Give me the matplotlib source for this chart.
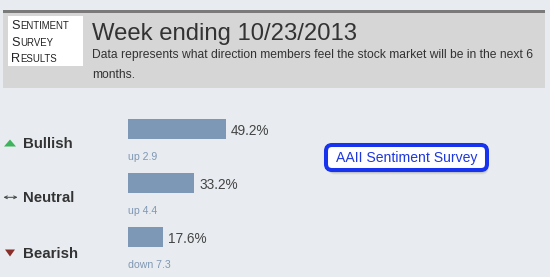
import matplotlib
matplotlib.use("Agg")
import matplotlib.pyplot as plt
from matplotlib.patches import Rectangle, Polygon, FancyBboxPatch

# data
categories = ["Bullish", "Neutral", "Bearish"]
values = [49.2, 33.2, 17.6]
changes = ["up 2.9", "up 4.4", "down 7.3"]
week = "10/23/2013"

plt.rcParams['font.family'] = ['Liberation Sans', 'DejaVu Sans']

BG = '#e8ecf0'
BAR = '#7c98b6'
DARK = '#333333'

fig = plt.figure(figsize=(5.5, 2.77), dpi=100, facecolor=BG)

# pixel canvas for the page furniture
ax = fig.add_axes([0, 0, 1, 1])
ax.set_xlim(0, 550)
ax.set_ylim(277, 0)
ax.axis('off')

# header band
ax.add_patch(Rectangle((3, 12), 542, 76, fc='#d6d6d6', ec='none'))
ax.add_patch(Rectangle((3, 10), 542, 2.6, fc='#7a7a7a', ec='none'))
ax.add_patch(Rectangle((8, 16), 75, 50, fc='white', ec='none'))

# small caps box text
fig.canvas.draw()
renderer = fig.canvas.get_renderer()
for word, base in zip(["Sentiment", "Survey", "Results"], [29.2, 45.8, 62.3]):
    t = ax.text(11, base, word[0], fontsize=9.2, color='#222222', va='baseline')
    bb = t.get_window_extent(renderer)
    x1 = ax.transData.inverted().transform((bb.x1, bb.y0))[0]
    ax.text(x1 + 0.4, base, word[1:].upper(), fontsize=6.9, color='#222222',
            va='baseline')

ax.text(92, 40, "Week ending " + week, fontsize=17.2, color=DARK, va='baseline')
ax.text(92, 58, "Data represents what direction members feel the stock market "
        "will be in the next 6", fontsize=8.75, color=DARK, va='baseline')
ax.text(92, 78.3, "months.", fontsize=8.75, color=DARK, va='baseline')

# row labels with icons
for name, base in zip(categories, [148.3, 202.5, 257.8]):
    ax.text(23, base, name, fontsize=10.8, fontweight='bold', color=DARK,
            va='baseline')
ax.add_patch(Polygon([(4, 146.5), (16, 146.5), (10, 139.5)], closed=True,
                     fc='#3db35c', ec='none'))
ax.add_patch(Polygon([(5, 249.5), (15, 249.5), (10, 256.5)], closed=True,
                     fc='#8a2e2a', ec='none'))
ax.annotate("", xy=(3.5, 197.3), xytext=(17.5, 197.3),
            arrowprops=dict(arrowstyle='<->', color='#444444', lw=0.7,
                            mutation_scale=5, shrinkA=0, shrinkB=0))

# AAII button with soft shadow
for off, a in [(4.5, 0.08), (3.5, 0.12), (2.5, 0.16)]:
    ax.add_patch(FancyBboxPatch((326 + off * 0.4, 145 + off), 161, 25,
                                boxstyle="round,pad=0,rounding_size=7",
                                fc='#555555', ec='none', alpha=a))
ax.add_patch(FancyBboxPatch((326, 145), 161, 25,
                            boxstyle="round,pad=0,rounding_size=6",
                            fc='white', ec='#1733ee', lw=2.9))
ax.text(406.5, 162, "AAII Sentiment Survey", fontsize=10.1, color='#1f38dc',
        ha='center', va='baseline')

# bars: 0-100 % mapped onto 200 px starting at x=128
bx = fig.add_axes([128 / 550, 1 - 264 / 277, 200 / 550, 162 / 277])
bx.set_xlim(0, 100)
bx.set_ylim(2.5, -0.5)
bx.axis('off')
rows = range(len(values))
bx.barh(rows, values, height=20 / 54, color=BAR, left=0)
for i, (v, c) in enumerate(zip(values, changes)):
    bx.text(v + 2.4, i + 0.105, f"{v}%", fontsize=9.8, color='#444444',
            va='baseline', clip_on=False)
    bx.text(0, i + 0.57, c, fontsize=7.6, color='#7f97b3', va='baseline',
            clip_on=False)

fig.savefig("out.png", dpi=100, facecolor=BG)
